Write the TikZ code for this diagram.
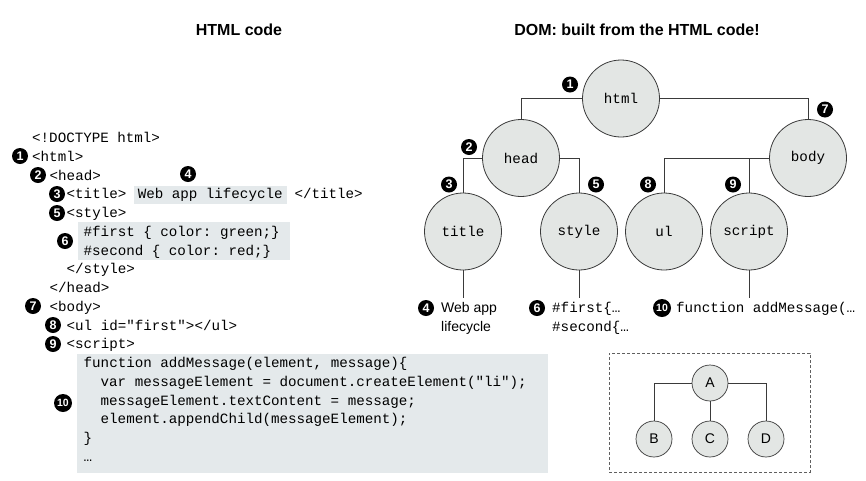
\documentclass[tikz,border=0pt]{standalone}
\usepackage{fontspec}
\setmainfont{Liberation Sans}
\setmonofont{Liberation Mono}
\usetikzlibrary{positioning}
\definecolor{domfill}{HTML}{E3E6E4}
\definecolor{codefill}{HTML}{E4E9EB}
\definecolor{linkgray}{HTML}{3A3A3A}
\newcommand{\codefont}{\fontsize{14.2}{19}\selectfont\ttfamily}
\newcommand{\numfont}{\fontsize{12.5}{12.5}\selectfont\bfseries}

\begin{document}
\begin{tikzpicture}[x=1pt, y=-1pt,
    code/.style={font=\codefont, anchor=west, inner sep=0pt, text height=10pt, text depth=3pt},
    hl/.style={code, fill=codefill, inner xsep=4pt, inner ysep=2.5pt},
    codebox/.style={fill=codefill, inner sep=0pt, anchor=north west},
    num/.style={circle, fill=black, text=white, inner sep=0pt, minimum size=16pt, font=\numfont},
    numwide/.style={num, minimum size=18pt, font=\fontsize{10.5}{10.5}\selectfont\bfseries},
    dom/.style={circle, draw=linkgray, line width=0.8pt, fill=domfill, minimum size=77pt, font=\codefont},
    mini/.style={circle, draw=linkgray, line width=0.7pt, fill=domfill, minimum size=36pt,
                 font=\fontsize{14}{14}\selectfont},
    leaf/.style={anchor=north west, inner xsep=0pt, inner ysep=4pt, align=left},
    link/.style={draw=linkgray, line width=0.8pt},
    heading/.style={font=\fontsize{16}{19}\selectfont\bfseries}]
  \useasboundingbox (0,0) rectangle (866,480);

  % --- naglowki ---
  \node[heading] (codehead) at (239,30) {HTML code};
  \node[heading] (domhead)  at (637,30) {DOM: built from the HTML code!};

  % --- lewa strona: kod HTML ---
  \node[codebox, minimum width=212pt, minimum height=38pt]  (cssbox) at (78,222) {};
  \node[codebox, minimum width=471pt, minimum height=119pt] (jsbox)  at (77,354) {};

  \node[code] (doctype)    at (32,139)      {<!DOCTYPE html>};
  \node[code] (htmlopen)   at (32,157.75)   {<html>};
  \node[code] (headopen)   at (49.5,176.5)  {<head>};
  \node[code] (titleopen)  at (66.5,195.25) {<title>};
  \node[hl, right=7pt of titleopen]    (titletext)  {Web app lifecycle};
  \node[code, right=7.5pt of titletext] (titleclose) {</title>};
  \node[code] (styleopen)  at (66.5,214)    {<style>};
  \node[code] (cssfirst)   at (83.5,232.75) {\#first \{ color: green;\}};
  \node[code] (csssecond)  at (83.5,251.5)  {\#second \{ color: red;\}};
  \node[code] (styleclose) at (66.5,270.25) {</style>};
  \node[code] (headclose)  at (49.5,289)    {</head>};
  \node[code] (bodyopen)   at (49.5,307.75) {<body>};
  \node[code] (ultag)      at (66.5,326.5)  {<ul id="first"></ul>};
  \node[code] (scriptopen) at (66.5,345.25) {<script>};
  \node[code] (jsfun)      at (83.5,364)    {function addMessage(element, message)\{};
  \node[code] (jsvar)      at (100.5,382.75){var messageElement = document.createElement("li");};
  \node[code] (jstext)     at (100.5,401.5) {messageElement.textContent = message;};
  \node[code] (jsappend)   at (100.5,420.25){element.appendChild(messageElement);};
  \node[code] (jsclose)    at (83.5,439)    {\}};
  \node[code] (jsmore)     at (83.5,457.75) {…};

  % --- numerki przy kodzie ---
  \node[num] (c1) at (20,156)  {1};
  \node[num] (c2) at (38,175)  {2};
  \node[num] (c3) at (57,194)  {3};
  \node[num] (c4) at (188,174) {4};
  \node[num] (c5) at (57,213)  {5};
  \node[num] (c6) at (65,241)  {6};
  \node[num] (c7) at (33,306)  {7};
  \node[num] (c8) at (53,325)  {8};
  \node[num] (c9) at (53,344)  {9};
  \node[numwide] (c10) at (63,403) {10};

  % --- prawa strona: drzewo DOM ---
  \node[dom] (html)   at (621,98.5)  {html};
  \node[dom] (head)   at (521,158)   {head};
  \node[dom] (body)   at (808,158)   {body};
  \node[dom] (title)  at (463,231.5) {title};
  \node[dom] (style)  at (579,231.5) {style};
  \node[dom] (ul)     at (664,231.5) {ul};
  \node[dom] (script) at (749,231.5) {script};

  \node[leaf, font=\fontsize{14}{19}\selectfont] (leafweb) at (441,298) {Web app\\lifecycle};
  \node[leaf, font=\codefont] (leafcss) at (552,298) {\#first\{…\\\#second\{…};
  \node[leaf, font=\codefont] (leafjs)  at (676,298) {function addMessage(…};

  \draw[link] (html.west) -| (head.north);
  \draw[link] (html.east) -| (body.north);
  \draw[link] (head.west) -| (title.north);
  \draw[link] (head.east) -| (style.north);
  \draw[link] (body.west) -| (ul.north);
  \draw[link] (script.north) -- (script.north |- body.west);
  \draw[link] (title.south)  -- (title.south |- leafweb.north);
  \draw[link] (style.south)  -- (style.south |- leafcss.north);
  \draw[link] (script.south) -- (script.south |- leafjs.north);

  % --- numerki przy drzewie ---
  \node[num] (d1) at (570,84.5)  {1};
  \node[num] (d2) at (469,147)   {2};
  \node[num] (d3) at (449,184.5) {3};
  \node[num] (d5) at (596,184.5) {5};
  \node[num] (d7) at (825,109.5) {7};
  \node[num] (d8) at (648,184.5) {8};
  \node[num] (d9) at (733,184.5) {9};
  \node[num] (d4) at (426,308)   {4};
  \node[num] (d6) at (537,308)   {6};
  \node[numwide] (d10) at (662,308) {10};

  % --- legenda: ogolne drzewo ---
  \node[draw=gray!75!black, line width=0.9pt, dash pattern=on 3pt off 2pt,
        minimum width=201pt, minimum height=119pt] (legend) at (709.5,412.5) {};
  \node[mini] (na) at (710,383) {A};
  \node[mini] (nb) at (654,439) {B};
  \node[mini] (nc) at (710,439) {C};
  \node[mini] (nd) at (766,439) {D};
  \draw[link, line width=0.7pt] (na.west) -| (nb.north);
  \draw[link, line width=0.7pt] (na.east) -| (nd.north);
  \draw[link, line width=0.7pt] (na.south) -- (nc.north);
\end{tikzpicture}
\end{document}
